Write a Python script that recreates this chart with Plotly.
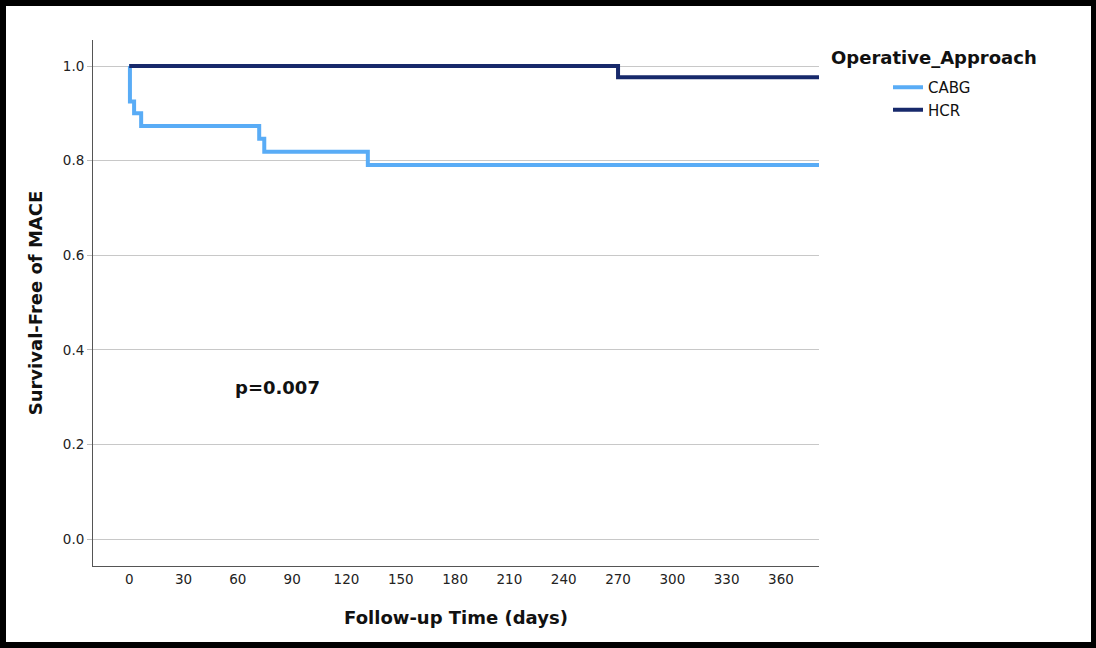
import plotly.graph_objects as go

# ---- data ----
cabg_days = [0, 0.4, 2.7, 6.6, 71.8, 74.6, 131.8, 381]
cabg_surv = [1.0, 0.925, 0.900, 0.873, 0.846, 0.819, 0.791, 0.791]
hcr_days = [0, 270, 381]
hcr_surv = [1.0, 0.976, 0.976]
x_ticks = [0, 30, 60, 90, 120, 150, 180, 210, 240, 270, 300, 330, 360]
y_ticks = [0.0, 0.2, 0.4, 0.6, 0.8, 1.0]
p_text = "p=0.007"
p_pos = (81.8, 0.321)

FONT = "DejaVu Sans"
W, H = 1096, 648
L, R, T, B = 93, 277, 40, 82
pw, ph = W - L - R, H - T - B


def px_x(p):
    return (p - L) / pw


def px_y(p):
    return (H - B - p) / ph


fig = go.Figure()
fig.add_trace(go.Scatter(
    x=cabg_days, y=cabg_surv, mode="lines", name="CABG",
    line=dict(shape="hv", color="#59acf6", width=4),
))
fig.add_trace(go.Scatter(
    x=hcr_days, y=hcr_surv, mode="lines", name="HCR",
    line=dict(shape="hv", color="#17296b", width=4),
))

fig.update_layout(
    width=W, height=H,
    margin=dict(l=L, r=R, t=T, b=B, autoexpand=False),
    paper_bgcolor="black",
    plot_bgcolor="white",
    font=dict(family=FONT, color="#222222", size=13),
    showlegend=True,
    legend=dict(
        x=px_x(888), y=px_y(71), xanchor="left", yanchor="top",
        font=dict(family=FONT, size=15, color="#111111"),
        bgcolor="rgba(0,0,0,0)", tracegroupgap=0,
    ),
    xaxis=dict(
        range=[-20, 381], tickvals=x_ticks, showgrid=False, zeroline=False,
        showline=True, linecolor="#555555", linewidth=1,
        ticks="outside", ticklen=1, tickcolor="rgba(0,0,0,0)",
        tickfont=dict(family=FONT, size=13.5, color="#222222"),
        title=dict(text="<b>Follow-up Time (days)</b>", standoff=25,
                   font=dict(family=FONT, size=18, color="#111111")),
    ),
    yaxis=dict(
        range=[-0.057, 1.055], tickvals=y_ticks, tickformat=".1f",
        showgrid=True, gridcolor="#c8c8c8", gridwidth=1, zeroline=False,
        showline=True, linecolor="#555555", linewidth=1,
        ticks="outside", ticklen=5, tickcolor="#bbbbbb",
        tickfont=dict(family=FONT, size=13.5, color="#222222"),
        title=dict(text="<b>Survival-Free of MACE</b>",
                   font=dict(family=FONT, size=18, color="#111111")),
    ),
    shapes=[dict(
        type="rect", xref="paper", yref="paper", layer="below",
        x0=px_x(6), x1=px_x(1091), y0=px_y(642), y1=px_y(6),
        fillcolor="white", line=dict(width=0),
    )],
    annotations=[
        dict(text="<b>Operative_Approach</b>", xref="paper", yref="paper",
             x=px_x(829), y=px_y(57), xanchor="left", yanchor="middle",
             showarrow=False, font=dict(family=FONT, size=18, color="#111111")),
        dict(text="<b>" + p_text + "</b>", xref="x", yref="y",
             x=p_pos[0], y=p_pos[1], xanchor="center", yanchor="middle",
             showarrow=False, font=dict(family=FONT, size=18, color="#111111")),
    ],
)

fig.write_html(
    "out.html",
    config={"displayModeBar": False},
    post_script="document.body.style.margin='0';document.body.style.background='black';",
)
